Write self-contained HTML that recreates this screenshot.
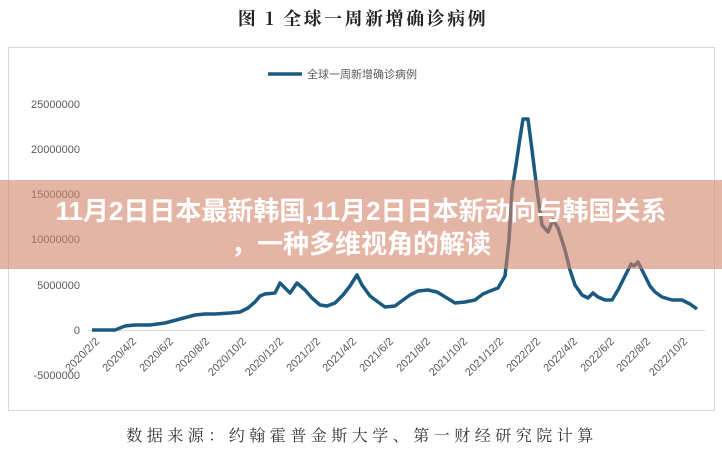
<!DOCTYPE html>
<html><head><meta charset="utf-8"><style>
body{margin:0;width:722px;height:451px;background:#fff;overflow:hidden;position:relative;font-family:"Liberation Sans","Noto Sans CJK SC",sans-serif}
</style></head><body>
<svg width="722" height="451" style="position:absolute;left:0;top:0">
<text x="363" y="25" text-anchor="middle" font-family="'Noto Serif CJK SC',serif" font-size="18" font-weight="bold" letter-spacing="2.5" fill="#222">图 1  全球一周新增确诊病例</text>
<rect x="8.5" y="47.5" width="706" height="363" fill="none" stroke="#d9d9d9"/>
<line x1="268" y1="74" x2="302" y2="74" stroke="#1b5a80" stroke-width="3.5"/>
<text x="307" y="78" font-size="11" fill="#595959" font-family="'Noto Sans CJK SC',sans-serif">全球一周新增确诊病例</text>
<g font-size="11" fill="#595959" text-anchor="end">
<text x="80" y="108">25000000</text>
<text x="80" y="153">20000000</text>
<text x="80" y="198">15000000</text>
<text x="80" y="243">10000000</text>
<text x="80" y="289">5000000</text>
<text x="80" y="334">0</text>
<text x="80" y="379">-5000000</text>
</g>
<line x1="88" y1="330.5" x2="705" y2="330.5" stroke="#d9d9d9"/>
<g font-size="11" fill="#595959" text-anchor="end">
<text transform="translate(100,342) rotate(-45)">2020/2/2</text>
<text transform="translate(137,342) rotate(-45)">2020/4/2</text>
<text transform="translate(174,342) rotate(-45)">2020/6/2</text>
<text transform="translate(210,342) rotate(-45)">2020/8/2</text>
<text transform="translate(247,342) rotate(-45)">2020/10/2</text>
<text transform="translate(284,342) rotate(-45)">2020/12/2</text>
<text transform="translate(321,342) rotate(-45)">2021/2/2</text>
<text transform="translate(357,342) rotate(-45)">2021/4/2</text>
<text transform="translate(394,342) rotate(-45)">2021/6/2</text>
<text transform="translate(431,342) rotate(-45)">2021/8/2</text>
<text transform="translate(468,342) rotate(-45)">2021/10/2</text>
<text transform="translate(504,342) rotate(-45)">2021/12/2</text>
<text transform="translate(541,342) rotate(-45)">2022/2/2</text>
<text transform="translate(578,342) rotate(-45)">2022/4/2</text>
<text transform="translate(615,342) rotate(-45)">2022/6/2</text>
<text transform="translate(651,342) rotate(-45)">2022/8/2</text>
<text transform="translate(688,342) rotate(-45)">2022/10/2</text>
</g>
<polyline fill="none" stroke="#1b5a80" stroke-width="3.5" stroke-linejoin="round" points="92,330 115,330 125,326 135,325 150,325 165,323 180,319 195,315 205,314 215,314 230,313 240,312 248,308 255,302 260,296 265,294 275,293 280,283 285,288 290,293 297,283 305,290 312,298 320,305 327,306 335,303 343,295 350,286 357,275 362,285 370,296 378,302 385,307 395,306 403,300 410,295 418,291 428,290 437,292 447,298 455,303 465,302 475,300 483,294 490,291 498,288 505,276 509,240 512,190 516,165 520,138 523,119 528,119 532,150 537,190 542,225 548,232 553,220 558,228 565,250 570,270 575,285 582,295 588,298 593,293 598,297 605,300 612,300 618,290 625,276 631,264 634,266 638,262 642,270 646,278 650,286 655,292 662,297 672,300 682,300 690,304 697,309"/>
<text x="362" y="441" text-anchor="middle" font-family="'Noto Serif CJK SC',serif" font-size="16" letter-spacing="4.5" fill="#333">数据来源：约翰霍普金斯大学、第一财经研究院计算</text>
</svg>
<div style="position:absolute;left:0;top:180px;width:722px;height:89px;background:rgba(210,130,105,0.6)"></div>
<div style="position:absolute;left:0;top:195px;width:722px;text-align:center;color:#fff;font-weight:bold;font-size:26px;line-height:33px;font-family:'Liberation Sans','Noto Sans CJK SC',sans-serif">11月2日日本最新韩国,11月2日日本新动向与韩国关系<br>，一种多维视角的解读</div>
</body></html>
